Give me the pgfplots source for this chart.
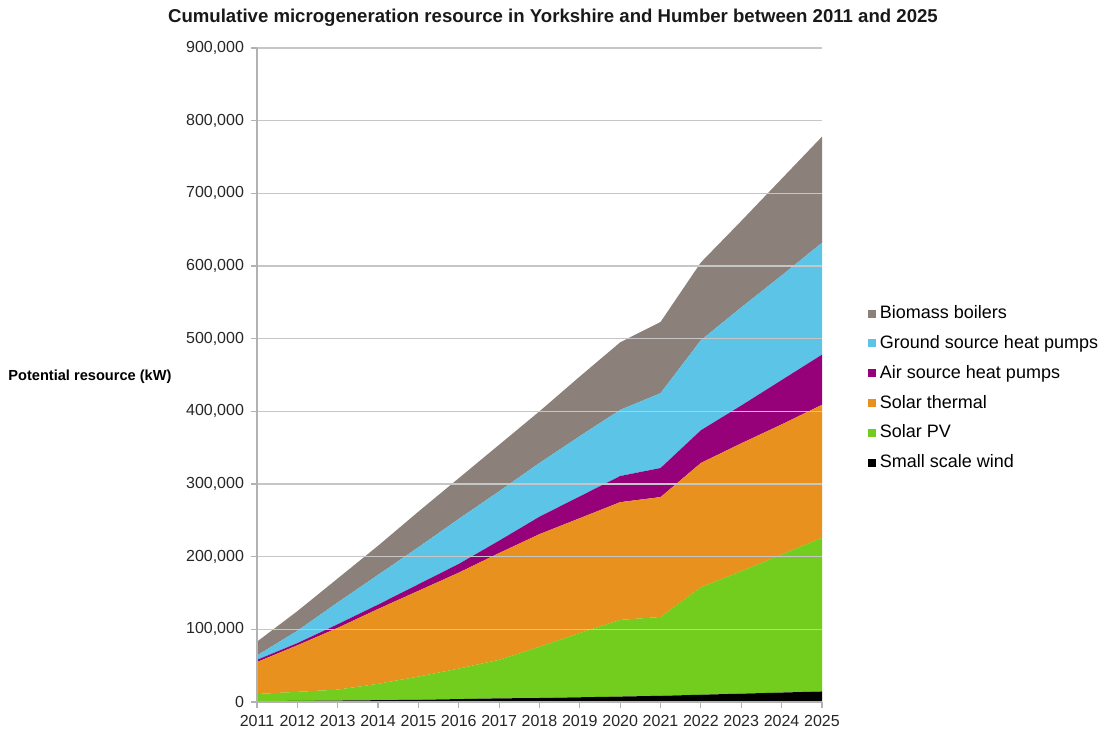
\documentclass[border=0pt]{standalone}
\usepackage{fontspec}
\setmainfont{Liberation Sans}
\usepackage{pgfplots}
\pgfplotsset{compat=1.18}
\usepackage{pgfplotstable}

\definecolor{cbio}{RGB}{140,128,122}
\definecolor{cgshp}{RGB}{92,196,230}
\definecolor{cashp}{RGB}{150,0,120}
\definecolor{cthermal}{RGB}{232,145,30}
\definecolor{cpv}{RGB}{115,205,30}
\definecolor{cwind}{RGB}{0,0,0}

% yearly values per technology (kW), stacked in the chart
\pgfplotstableread{
year wind  pv     thermal ashp  gshp   biomass
2011 1000  10000  44000   3000  6000   19000
2012 1500  12500  64000   3000  17000  27000
2013 2000  15000  85000   5000  30000  33000
2014 2500  22500  103000  6000  41000  40000
2015 3000  32000  118000  9000  51000  49000
2016 4000  42000  132000  12000 62000  56000
2017 5000  53000  147000  17000 68000  64000
2018 5500  70500  155000  24000 74000  71000
2019 6500  88500  158000  30000 83000  82000
2020 7500  105500 162000  36000 91000  93000
2021 8500  108500 165000  40000 103000 98000
2022 10000 148000 171000  45000 124000 107000
2023 11500 168500 176000  52000 135000 119000
2024 13000 190000 179000  61000 144000 133000
2025 14500 211500 183000  69000 154000 146000
}\resdata

\begin{document}
\begin{tikzpicture}
\path[use as bounding box] (0,0) rectangle (552.5pt,364.5pt);
\begin{axis}[
    at={(128.5pt,13.5pt)}, anchor=south west,
    scale only axis,
    width=282.5pt, height=327pt,
    xmin=2011, xmax=2025,
    ymin=0, ymax=900000,
    stack plots=y,
    area style,
    xtick={2011,2012,...,2025},
    ytick={0,100000,...,900000},
    scaled y ticks=false,
    ymajorgrids=true,
    grid style={gray!45, line width=0.6pt},
    axis x line*=bottom,
    axis y line*=left,
    axis line style={gray!60, line width=0.6pt},
    tick style={gray!60, line width=0.6pt},
    tick align=outside,
    major tick length=3pt,
    tick label style={font=\fontsize{8}{9}\selectfont, text=black!85},
    /pgf/number format/assume math mode=true,
    xticklabel style={/pgf/number format/1000 sep={}},
    yticklabel style={/pgf/number format/.cd, fixed, 1000 sep={,}},
    reverse legend,
    legend style={
        at={(1.07,0.619)}, anchor=north west,
        draw=none, fill=none,
        font=\fontsize{9}{10}\selectfont,
        row sep=2.9pt,
        cells={anchor=west},
    },
    legend image code/.code={\fill[#1] (0pt,-2pt) rectangle (4pt,2pt);},
]
\addplot[fill=cwind, draw=none] table[x=year, y=wind] {\resdata} \closedcycle;
\addlegendentry{Small scale wind}
\addplot[fill=cpv, draw=none] table[x=year, y=pv] {\resdata} \closedcycle;
\addlegendentry{Solar PV}
\addplot[fill=cthermal, draw=none] table[x=year, y=thermal] {\resdata} \closedcycle;
\addlegendentry{Solar thermal}
\addplot[fill=cashp, draw=none] table[x=year, y=ashp] {\resdata} \closedcycle;
\addlegendentry{Air source heat pumps}
\addplot[fill=cgshp, draw=none] table[x=year, y=gshp] {\resdata} \closedcycle;
\addlegendentry{Ground source heat pumps}
\addplot[fill=cbio, draw=none] table[x=year, y=biomass] {\resdata} \closedcycle;
\addlegendentry{Biomass boilers}
\end{axis}
\node[font=\bfseries\fontsize{9.3}{11}\selectfont, text=black!90] at (276.5pt,355.5pt)
  {Cumulative microgeneration resource in Yorkshire and Humber between 2011 and 2025};
\node[font=\bfseries\fontsize{7.3}{9}\selectfont, anchor=west, inner sep=0pt] at (4pt,176pt)
  {Potential resource (kW)};
\end{tikzpicture}
\end{document}
